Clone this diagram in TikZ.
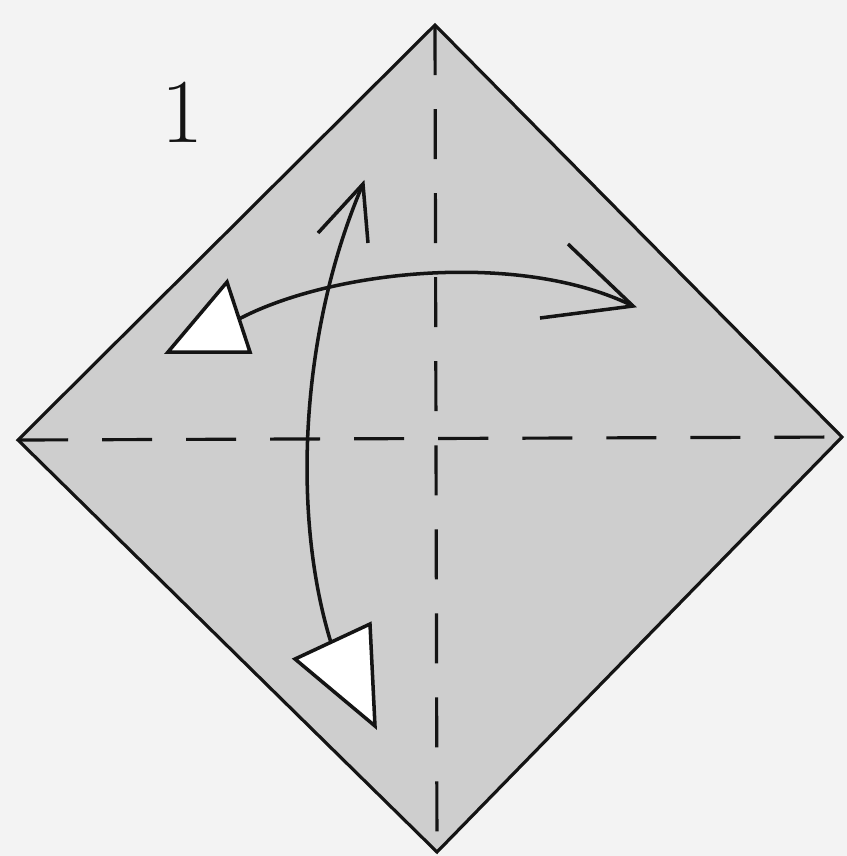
\documentclass[tikz,border=0pt]{standalone}
\usepackage{tikz}
\usepackage{xcolor}
\definecolor{PaperGray}{HTML}{CECECE}
\definecolor{Backdrop}{HTML}{F3F3F3}
\definecolor{Ink}{HTML}{141414}

\begin{document}
\begin{tikzpicture}[
    x=0.01cm, y=-0.01cm,
    edge/.style={draw=Ink, line width=0.9pt, line join=miter},
    crease/.style={draw=Ink, line width=0.9pt, dash pattern=on 0.5cm off 0.34cm},
    foldarr/.style={draw=Ink, line width=1pt},
    openhead/.style={draw=Ink, line width=1pt, fill=white, line join=miter}
]

% === Page ===
\fill[Backdrop] (0,0) rectangle (847,856);
\useasboundingbox (0,0) rectangle (847,856);

% === Square (diamond) ===
\coordinate (top) at (435,25);
\coordinate (left) at (18,440);
\coordinate (right) at (842,437);
\coordinate (bottom) at (437,852);
\draw[edge, fill=PaperGray] (top) -- (right) -- (bottom) -- (left) -- cycle;

% === Valley creases ===
\draw[crease] (top) -- (bottom);
\draw[crease] (left) -- (right);

% === Step number ===
\node[font=\fontsize{26}{30}\selectfont, text=Ink] (step1) at (182,112) {1};

% === Horizontal fold-and-unfold arrow ===
\coordinate (hstart) at (237,320);
\coordinate (htip) at (633,306);
\draw[foldarr] (hstart) .. controls (330,270) and (520,250) .. (htip);
\draw[foldarr] (568,244) -- (htip) -- (540,318);
\draw[openhead] (227,282) -- (168,352) -- (250,352) -- cycle;

% === Vertical fold-and-unfold arrow ===
\coordinate (vtip) at (363,184);
\coordinate (vend) at (334,652);
\draw[foldarr] (vtip) .. controls (300,330) and (290,520) .. (vend);
\draw[foldarr] (318,233) -- (vtip) -- (368,243);
\draw[openhead] (295,659) -- (370,624) -- (375,726) -- cycle;

\end{tikzpicture}
\end{document}
